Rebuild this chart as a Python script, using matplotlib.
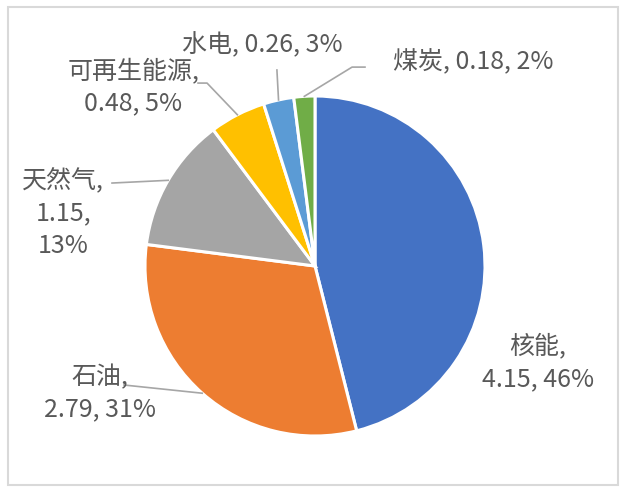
import numpy as np
import matplotlib
matplotlib.use("Agg")
import matplotlib.pyplot as plt
from matplotlib.patches import Rectangle

plt.rcParams['font.family'] = ['Noto Sans CJK SC', 'DejaVu Sans']

# data
names = ['核能', '石油', '天然气', '可再生能源', '水电', '煤炭']
values = [4.15, 2.79, 1.15, 0.48, 0.26, 0.18]
percents = ['46%', '31%', '13%', '5%', '3%', '2%']
colors = ['#4472C4', '#ED7D31', '#A5A5A5', '#FFC000', '#5B9BD5', '#70AD47']

# label layout (pie radius = 1)
label_text = [
    '核能,\n4.15, 46%',
    '石油,\n2.79, 31%',
    '天然气,\n1.15,\n13%',
    '可再生能源,\n0.48, 5%',
    '水电, 0.26, 3%',
    '煤炭, 0.18, 2%',
]
label_pos = [(1.31, -0.57), (-1.265, -0.75), (-1.48, 0.31),
             (-1.07, 1.05), (-0.31, 1.30), (0.93, 1.20)]
# leader line points from label side (None = no line)
leader_from = [None,
               [(-1.124, -0.70)],
               [(-1.194, 0.488)],
               [(-0.688, 1.076), (-0.635, 1.076)],
               [(-0.224, 1.153)],
               [(0.294, 1.17), (0.218, 1.17)]]

W, H = 626, 492
cx, cy, R = 315, 266, 170

fig = plt.figure(figsize=(W / 100, H / 100), dpi=100)
ax = fig.add_axes([0, 0, 1, 1])

wedges, _ = ax.pie(values, colors=colors, startangle=90, counterclock=False,
                   radius=1.0, wedgeprops=dict(edgecolor='white', linewidth=2.2))

ax.set_xlim(-cx / R, (W - cx) / R)
ax.set_ylim(-(H - cy) / R, cy / R)
ax.set_aspect('auto')
ax.axis('off')

for w, txt, pos, lf in zip(wedges, label_text, label_pos, leader_from):
    ax.text(pos[0], pos[1], txt, ha='center', va='center', fontsize=18,
            color='#595959', linespacing=1.32, fontweight='light')
    if lf is not None:
        mid = np.deg2rad((w.theta1 + w.theta2) / 2)
        end = (1.0 * np.cos(mid), 1.0 * np.sin(mid))
        pts = lf + [end]
        ax.plot([p[0] for p in pts], [p[1] for p in pts], color='#A6A6A6', lw=1.2)

fig.patches.append(Rectangle((8 / W, 7 / H), 610 / W, 478 / H, transform=fig.transFigure,
                             fill=False, edgecolor='#D9D9D9', lw=1.5))

fig.savefig('out.png', dpi=100)
